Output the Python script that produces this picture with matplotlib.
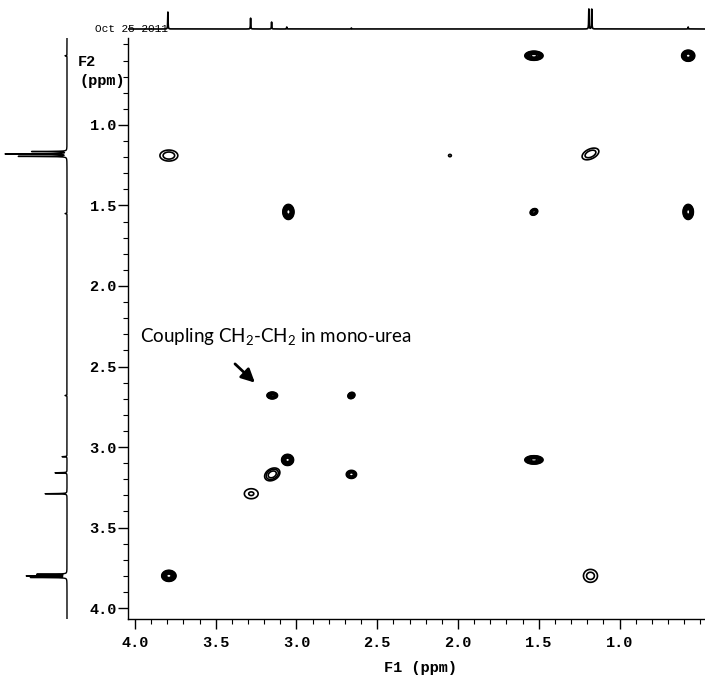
import numpy as np
import matplotlib
matplotlib.use('Agg')
import matplotlib.pyplot as plt
from matplotlib.ticker import MultipleLocator, FormatStrFormatter

# ---------------- data ----------------
# 2D COSY cross/diagonal peaks (F1 ppm, F2 ppm)
peak_f1 = [1.53, 0.575, 3.79, 1.18, 2.05, 3.05, 1.53, 0.575, 3.15, 2.66, 3.055, 1.53, 3.15, 2.66, 3.28, 3.79, 1.18]
peak_f2 = [0.57, 0.57, 1.19, 1.18, 1.19, 1.54, 1.54, 1.54, 2.68, 2.68, 3.08, 3.08, 3.17, 3.17, 3.29, 3.80, 3.80]
peak_amp = [20, 20, 2.0, 2.0, 1.3, 20, 6, 20, 15, 8, 20, 20, 3, 4, 1.6, 20, 1.8]
peak_w1 = [0.023, 0.0165, 0.047, 0.047, 0.012, 0.014, 0.013, 0.013, 0.014, 0.011, 0.015, 0.023, 0.034, 0.019, 0.044, 0.018, 0.040]
peak_w2 = [0.0115, 0.014, 0.029, 0.026, 0.010, 0.019, 0.010, 0.019, 0.009, 0.009, 0.014, 0.0105, 0.024, 0.015, 0.032, 0.014, 0.037]
peak_angle = [0, 0, 0, 25, 0, 0, 30, 0, 0, 30, 0, 0, 30, 0, 0, 0, 0]

# 1D projections (ppm, height)
top_ppm = [3.796, 3.284, 3.154, 3.06, 2.66, 1.19, 1.172, 0.575]
top_height = [17, 11, 7, 2, 1, 20, 20, 2]
left_ppm = [0.57, 1.165, 1.18, 1.195, 1.55, 2.68, 3.06, 3.16, 3.29, 3.79, 3.80, 3.81]
left_height = [2, 35, 62, 50, 2, 2, 5, 12, 22, 30, 40, 36]

x_ticks = [4.0, 3.5, 3.0, 2.5, 2.0, 1.5, 1.0]
y_ticks = [1.0, 1.5, 2.0, 2.5, 3.0, 3.5, 4.0]
contour_levels = [1, 1.5, 2.2, 3.2, 4.6, 6.8, 10, 14.5]

XLIM = (4.043, 0.471)
YLIM = (4.068, 0.460)

# ---------------- figure ----------------
W, H = 705, 685
fig = plt.figure(figsize=(W / 100, H / 100), dpi=100)
mono = 'Liberation Mono'
plt.rcParams['mathtext.fontset'] = 'custom'
plt.rcParams['mathtext.rm'] = 'Lato'


def fx(px):
    return px / W


def fy(py):
    return 1 - py / H


ax = fig.add_axes([fx(128), fy(619), (705 - 128) / W, (619 - 38) / H])

# build 2D surface from peak list
gx = np.linspace(min(XLIM), max(XLIM), 1400)
gy = np.linspace(min(YLIM), max(YLIM), 1400)
X, Y = np.meshgrid(gx, gy)
Z = np.zeros_like(X)
for f1, f2, a, w1, w2, ang in zip(peak_f1, peak_f2, peak_amp, peak_w1, peak_w2, peak_angle):
    t = np.deg2rad(ang)
    dx, dy = X - f1, Y - f2
    u = np.cos(t) * dx + np.sin(t) * dy
    v = -np.sin(t) * dx + np.cos(t) * dy
    Z += a * np.exp(-(u ** 2 / (2 * w1 ** 2) + v ** 2 / (2 * w2 ** 2)))

ax.contour(X, Y, Z, levels=contour_levels, colors='black', linewidths=1.2)

ax.set_xlim(*XLIM)
ax.set_ylim(*YLIM)
for s in ['top', 'right']:
    ax.spines[s].set_visible(False)
ax.spines['left'].set_linewidth(1.0)
ax.spines['bottom'].set_linewidth(1.0)

ax.set_xticks(x_ticks)
ax.set_yticks(y_ticks)
ax.xaxis.set_minor_locator(MultipleLocator(0.1))
ax.yaxis.set_minor_locator(MultipleLocator(0.1))
ax.xaxis.set_major_formatter(FormatStrFormatter('%.1f'))
ax.yaxis.set_major_formatter(FormatStrFormatter('%.1f'))
ax.tick_params(axis='both', which='major', direction='out', length=7, width=1.0, color='black')
ax.tick_params(axis='both', which='minor', direction='out', length=3.5, width=0.8, color='black')
ax.tick_params(axis='x', which='major', pad=5)
ax.tick_params(axis='y', which='major', pad=1)
for lab in ax.get_xticklabels() + ax.get_yticklabels():
    lab.set_fontfamily(mono)
    lab.set_fontweight('bold')
    lab.set_fontsize(11)

# annotation
ax.text(3.97, 2.32, r'Coupling CH$_\mathregular{2}$-CH$_\mathregular{2}$ in mono-urea',
        fontfamily='Lato', fontsize=13.5, ha='left', va='center')
ax.annotate('', xy=(3.245, 2.612), xytext=(3.393, 2.472),
            arrowprops=dict(arrowstyle='-|>,head_length=0.8,head_width=0.4', color='black', lw=2.0))

# top 1D spectrum
axt = fig.add_axes([fx(128), fy(38), (705 - 128) / W, 36 / H])
px = np.linspace(min(XLIM), max(XLIM), 8000)
g = 0.0012
spec_t = np.zeros_like(px)
for p, h in zip(top_ppm, top_height):
    spec_t += h * g ** 2 / ((px - p) ** 2 + g ** 2)
axt.plot(px, spec_t, color='black', lw=1.2)
axt.set_xlim(*XLIM)
axt.set_ylim(-9, 27)
axt.axis('off')

# left 1D spectrum
axl = fig.add_axes([0, fy(619), 72 / W, (619 - 38) / H])
py = np.linspace(min(YLIM), max(YLIM), 8000)
spec_l = np.zeros_like(py)
for p, h in zip(left_ppm, left_height):
    spec_l += h * g ** 2 / ((py - p) ** 2 + g ** 2)
axl.plot(spec_l, py, color='black', lw=1.0)
axl.set_xlim(67, -5)
axl.set_ylim(*YLIM)
axl.axis('off')

# texts
fig.text(fx(95), fy(29), 'Oct 25 2011', fontfamily=mono, fontsize=8, ha='left', va='center')
fig.text(fx(78), fy(62), 'F2', fontfamily=mono, fontweight='bold', fontsize=11, ha='left', va='center')
fig.text(fx(79), fy(81), '(ppm)', fontfamily=mono, fontweight='bold', fontsize=11, ha='left', va='center')
fig.text(fx(420), fy(668), 'F1 (ppm)', fontfamily=mono, fontweight='bold', fontsize=11, ha='center', va='center')

fig.savefig('out.png', dpi=100)
